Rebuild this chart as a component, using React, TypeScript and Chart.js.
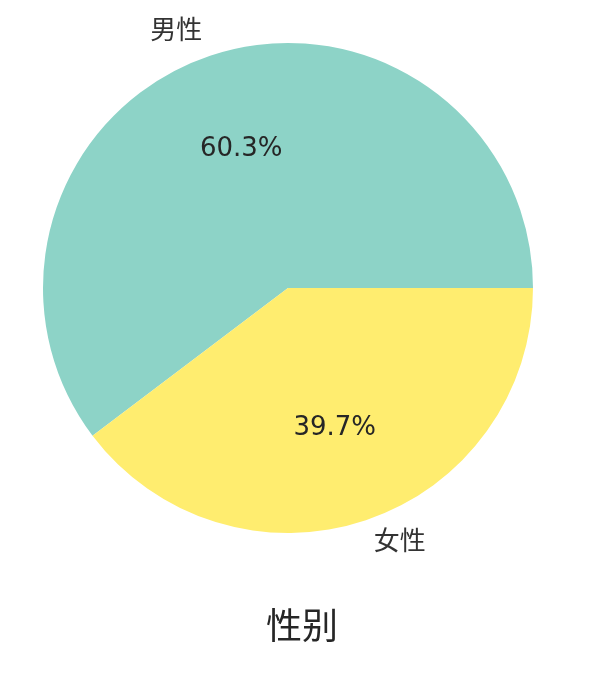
import React, { useEffect, useRef } from "react";
import { Chart, registerables } from "chart.js";

Chart.register(...registerables);

const categories = ["男性", "女性"];
const shares = [60.3, 39.7];
const colors = ["#8dd3c7", "#ffed6f"];
const title = "性别";

const FONT = '"DejaVu Sans", "Noto Sans CJK SC", sans-serif';

const pieLabels = {
  id: "pieLabels",
  afterDraw(chart: any) {
    const ctx = chart.ctx;
    const meta = chart.getDatasetMeta(0);
    ctx.save();
    meta.data.forEach((arc: any, i: number) => {
      const mid = (arc.startAngle + arc.endAngle) / 2;
      const r = arc.outerRadius;
      const cx = arc.x;
      const cy = arc.y;
      const cos = Math.cos(mid);
      const sin = Math.sin(mid);
      ctx.fillStyle = "#262626";
      ctx.font = `26px ${FONT}`;
      ctx.textAlign = "center";
      ctx.textBaseline = "middle";
      ctx.fillText(shares[i].toFixed(1) + "%", cx + 0.6 * r * cos, cy + 0.6 * r * sin + 1);
      ctx.fillStyle = "#333333";
      ctx.font = `26px ${FONT}`;
      ctx.textAlign = cos < 0 ? "right" : "left";
      ctx.fillText(categories[i], cx + 1.1 * r * cos, cy + 1.1 * r * sin);
    });
    ctx.fillStyle = "#262626";
    ctx.font = `36px ${FONT}`;
    ctx.textAlign = "center";
    ctx.textBaseline = "middle";
    ctx.fillText(title, 302, 630);
    ctx.restore();
  },
};

export default function App() {
  const ref = useRef<HTMLCanvasElement>(null);
  useEffect(() => {
    document.body.style.margin = "0";
    const total = shares.reduce((a, b) => a + b, 0);
    const chart = new Chart(ref.current!, {
      type: "pie",
      data: {
        labels: categories,
        datasets: [
          {
            data: shares,
            backgroundColor: colors,
            borderWidth: 0,
          },
        ],
      },
      options: {
        responsive: false,
        animation: false,
        rotation: 90 + (shares[1] / total) * 360,
        layout: { padding: { left: 43, right: 67, top: 43, bottom: 141 } },
        plugins: {
          legend: { display: false },
          tooltip: { enabled: false },
          title: { display: false },
        },
      },
      plugins: [pieLabels],
    });
    return () => chart.destroy();
  }, []);
  return (
    <div style={{ position: "absolute", left: 0, top: 0, width: 600, height: 674, background: "#fff" }}>
      <canvas ref={ref} width={600} height={674} style={{ width: 600, height: 674 }} />
    </div>
  );
}
